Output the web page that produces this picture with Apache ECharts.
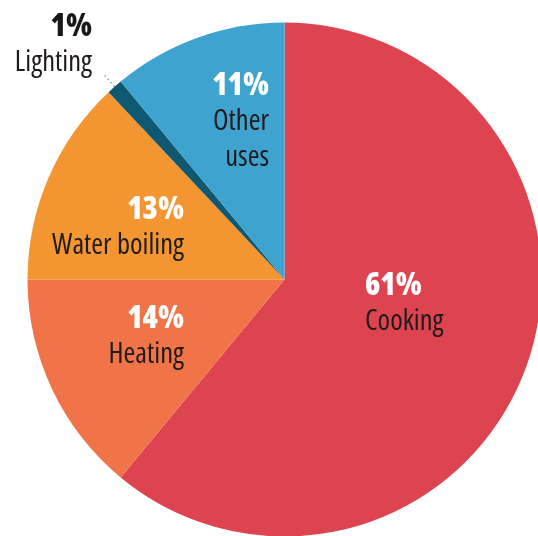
<!DOCTYPE html>
<html>
<head>
<meta charset="utf-8">
<style>
  html, body { margin: 0; padding: 0; background: #ffffff; }
  #chart { width: 538px; height: 536px; }
</style>
<script src="https://cdn.jsdelivr.net/npm/echarts@6/dist/echarts.min.js"></script>
</head>
<body>
<div id="chart"></div>
<script>
// Household energy use shares, clockwise from 12 o'clock
const categories = ['Cooking', 'Heating', 'Water boiling', 'Lighting', 'Other uses'];
const shares = [61, 14, 13, 1, 11];
// How each category name is broken over lines inside its label
const displayNames = ['Cooking', 'Heating', 'Water boiling', 'Lighting', 'Other\nuses'];

const sliceColors = ['#de4350', '#f17449', '#f39531', '#0e5871', '#3fa3cf'];

// Label anchor (top of text block) and alignment for each slice
const labelAnchors = [
  { x: 365, y: 268, align: 'left' },
  { x: 184, y: 301, align: 'right' },
  { x: 184, y: 192, align: 'right' },
  { x: 92,  y: 9,   align: 'right' },
  { x: 269, y: 68,  align: 'right' }
];

const fontFamily = '"Open Sans", Roboto, sans-serif';

const data = categories.map((name, i) => {
  const isLighting = name === 'Lighting';
  return {
    name: name,
    value: shares[i],
    itemStyle: { color: sliceColors[i] },
    label: {
      position: isLighting ? 'outside' : 'inside',
      align: labelAnchors[i].align,
      rich: {
        p: { color: isLighting ? '#1a1718' : '#ffffff', align: labelAnchors[i].align },
        n: { align: labelAnchors[i].align }
      }
    },
    labelLine: {
      show: isLighting,
      length: 16,
      length2: 0,
      lineStyle: { color: '#9a9a9a', width: 1.5, type: [1.5, 3] }
    }
  };
});

const chart = echarts.init(document.getElementById('chart'), null, { renderer: 'canvas' });

chart.setOption({
  animation: false,
  backgroundColor: '#ffffff',
  series: [{
    type: 'pie',
    center: [284.5, 279.5],
    radius: 257,
    startAngle: 90,
    clockwise: true,
    avoidLabelOverlap: false,
    silent: true,
    emphasis: { disabled: true },
    itemStyle: { borderWidth: 0 },
    label: {
      show: true,
      formatter: (p) => '{p|' + p.value + '%}\n{n|' + displayNames[p.dataIndex] + '}',
      rich: {
        p: {
          fontFamily: fontFamily,
          // weight plus font-stretch keyword in the canvas font shorthand
          fontWeight: '800 semi-condensed',
          fontSize: 31,
          lineHeight: 36,
          color: '#ffffff'
        },
        n: {
          fontFamily: fontFamily,
          fontWeight: 'condensed',
          fontSize: 28.5,
          lineHeight: 36,
          color: '#1f1b1c'
        }
      }
    },
    labelLayout: (params) => {
      const a = labelAnchors[params.dataIndex];
      const out = { x: a.x, y: a.y, align: a.align, verticalAlign: 'top' };
      if (params.labelLinePoints) out.labelLinePoints = params.labelLinePoints;
      return out;
    },
    data: data
  }]
});
</script>
</body>
</html>
